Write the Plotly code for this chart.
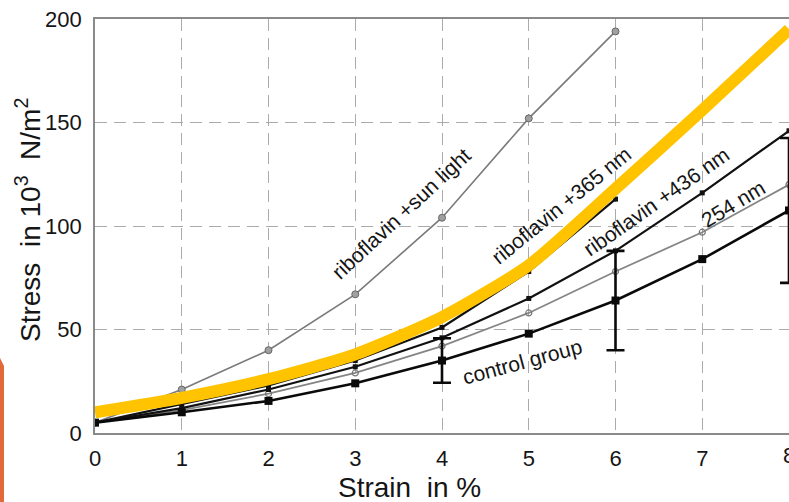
import plotly.graph_objects as go

strain = [0, 1, 2, 3, 4, 5, 6, 7, 8]
strain_short = [0, 1, 2, 3, 4, 5, 6]

sun_light = [5, 21, 40, 67, 104, 152, 194]
nm365 = [5, 14, 23, 35, 51, 78, 113]
nm436 = [5, 12, 21, 32, 46, 65, 88, 116, 146]
nm254 = [5, 11, 19, 29, 42, 58, 78, 97, 120]
control = [5, 10, 15.5, 24, 35, 48, 64, 84, 107.5]
highlight = [10, 17, 26, 38, 56, 81, 118, 156, 195]

err_x = [4, 6, 8]
err_y = [35, 64, 107.5]
err_val = [10.75, 24, 35]

x_ticks = [0, 1, 2, 3, 4, 5, 6, 7, 8]
y_ticks = [0, 50, 100, 150, 200]

labels = [
    ("riboflavin +sun light", 3.53, 106, -43),
    ("riboflavin +365 nm", 5.37, 110, -39),
    ("riboflavin +436 nm", 6.47, 112, -35),
    ("254 nm", 7.36, 111, -31),
    ("control group", 4.93, 34.5, -15),
]

FONT = "Liberation Sans, Arial, Helvetica, sans-serif"
TXT = "#151515"

fig = go.Figure()

fig.add_trace(go.Scatter(x=strain_short, y=sun_light, mode="lines+markers",
                         line=dict(color="#7a7a7a", width=1.6),
                         marker=dict(symbol="circle", size=7, color="#a0a0a0",
                                     line=dict(color="#666666", width=1))))
fig.add_trace(go.Scatter(x=strain, y=nm254, mode="lines+markers",
                         line=dict(color="#858585", width=1.8),
                         marker=dict(symbol="circle-open", size=6, color="#777777",
                                     line=dict(width=1.2))))
fig.add_trace(go.Scatter(x=strain, y=nm436, mode="lines+markers",
                         line=dict(color="#111111", width=2.2),
                         marker=dict(symbol="square", size=5, color="#111111")))
fig.add_trace(go.Scatter(x=strain_short, y=nm365, mode="lines+markers",
                         line=dict(color="#111111", width=2.2),
                         marker=dict(symbol="square", size=5, color="#111111")))
fig.add_trace(go.Scatter(x=strain, y=control, mode="lines+markers",
                         line=dict(color="#0a0a0a", width=2.6),
                         marker=dict(symbol="square", size=8, color="#0a0a0a")))
fig.add_trace(go.Scatter(x=err_x, y=err_y, mode="markers",
                         marker=dict(size=1, color="#0a0a0a"),
                         error_y=dict(type="data", array=err_val, visible=True,
                                      color="#0a0a0a", thickness=2.6, width=9)))
fig.add_trace(go.Scatter(x=strain, y=highlight, mode="lines",
                         line=dict(color="#FFC300", width=12, shape="spline",
                                   smoothing=0.6)))

for text, x, y, ang in labels:
    fig.add_annotation(x=x, y=y, text=text, textangle=ang, showarrow=False,
                       xanchor="center", yanchor="middle",
                       font=dict(family=FONT, size=21, color=TXT))

# last x tick label, cut by the right edge as in the reference
fig.add_annotation(x=x_ticks[-1], y=-(455 - 433) / 414, xref="x", yref="paper",
                   text=str(x_ticks[-1]), showarrow=False,
                   xanchor="center", yanchor="middle",
                   font=dict(family=FONT, size=22, color=TXT))

# axis titles
fig.add_annotation(x=(409 - 95) / 694, y=-(488 - 433) / 414, xref="paper", yref="paper",
                   text="Strain  in %", showarrow=False,
                   xanchor="center", yanchor="middle",
                   font=dict(family=FONT, size=28, color=TXT))
fig.add_annotation(x=-(95 - 28) / 694, y=(433 - 220) / 414, xref="paper", yref="paper",
                   text="Stress  in 10<sup>3</sup>  N/m<sup>2</sup>", textangle=-90,
                   xanchor="center", yanchor="middle",
                   showarrow=False, font=dict(family=FONT, size=28, color=TXT))

# decorative orange strip on the left edge
fig.add_shape(type="path", xref="paper", yref="paper",
              path="M %f,%f L %f,%f L %f,%f L %f,%f Z" % (
                  -95 / 694, (433 - 358) / 414,
                  -91 / 694, (433 - 366) / 414,
                  -91 / 694, -69 / 414,
                  -95 / 694, -69 / 414),
              fillcolor="#E2693A", line=dict(width=0), layer="above")

grid = dict(showgrid=True, gridcolor="#ababab", gridwidth=1.4, griddash="12px,7px",
            showline=True, linecolor="#8a8a8a", linewidth=1.6, mirror=True,
            zeroline=False, ticks="", automargin=False,
            tickfont=dict(family=FONT, size=22, color=TXT))

fig.update_xaxes(range=[0, 8], tickvals=x_ticks, ticklabelstandoff=5, **grid)
fig.update_yaxes(range=[0, 200], tickvals=y_ticks, ticklabelstandoff=7, **grid)

fig.update_layout(width=789, height=502, showlegend=False,
                  margin=dict(l=95, r=0, t=19, b=69),
                  paper_bgcolor="white", plot_bgcolor="white")

fig.write_html("out.html")
